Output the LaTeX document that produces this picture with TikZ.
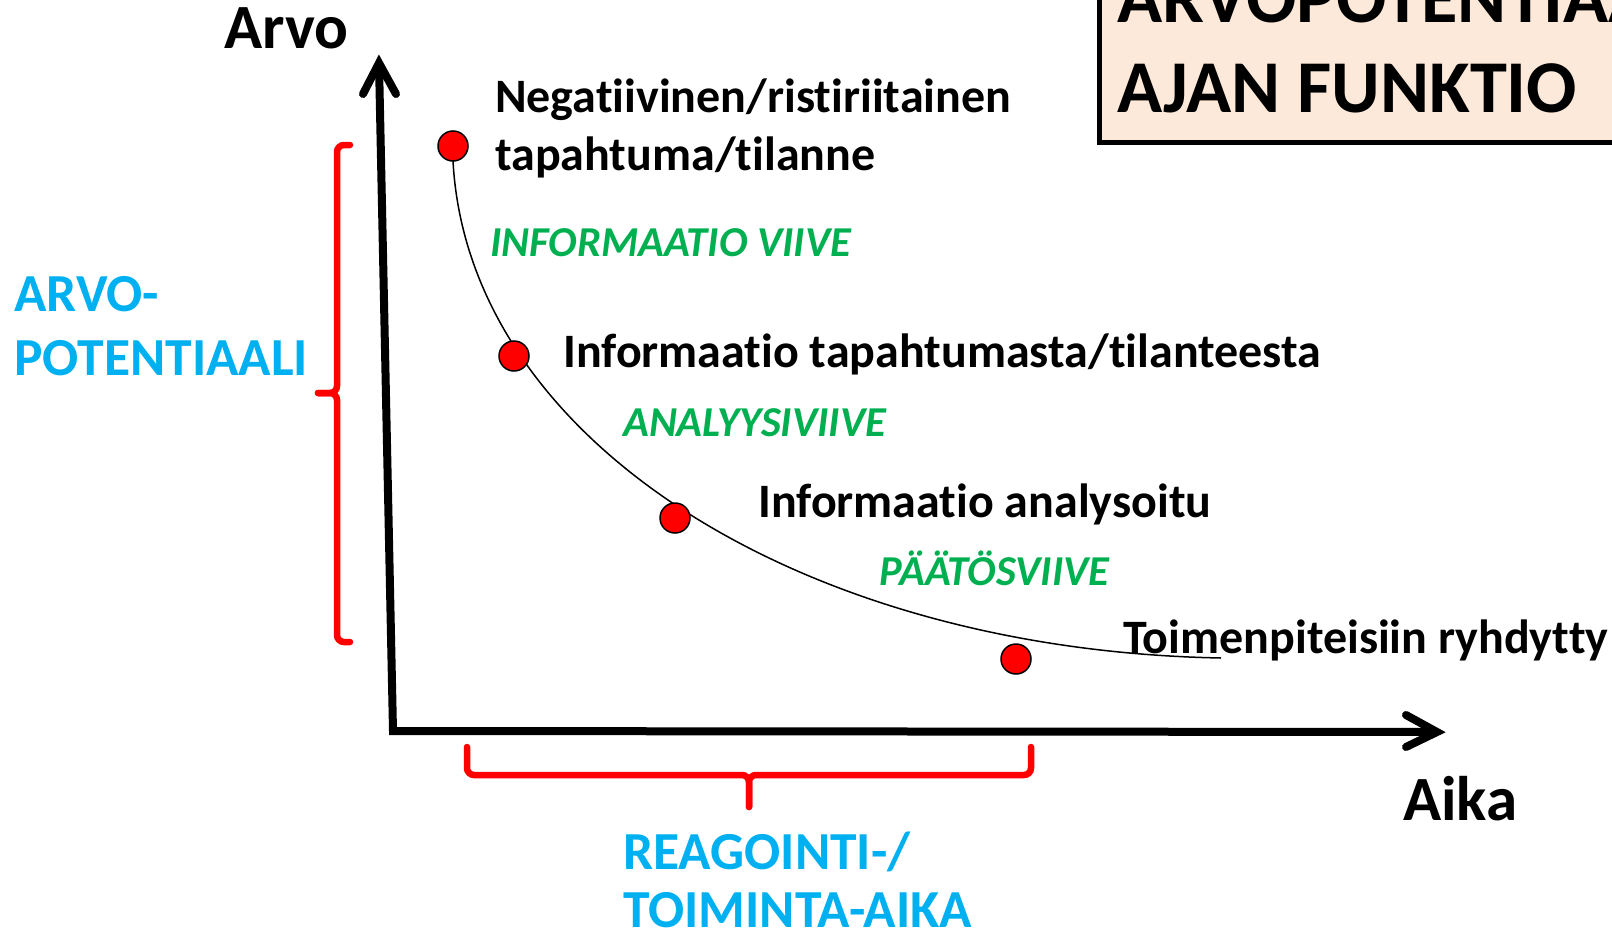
\documentclass[tikz,border=0pt]{standalone}
\usepackage{fontspec}
\setmainfont{Carlito}[Ligatures={NoCommon}]
\usetikzlibrary{calc}
\definecolor{dotred}{HTML}{FF0000}
\definecolor{lagreen}{HTML}{00B050}
\definecolor{lablue}{HTML}{00B0F0}
\definecolor{peach}{HTML}{FDE9D9}
\begin{document}
\begin{tikzpicture}[x=1pt,y=-1pt,
  lbl/.style={anchor=base west, inner sep=0, font=\fontsize{48pt}{57pt}\selectfont\bfseries},
  glbl/.style={anchor=base west, inner sep=0, text=lagreen, font=\fontsize{42.6pt}{50pt}\selectfont\bfseries\itshape},
  blbl/.style={anchor=base west, inner sep=0, text=lablue, font=\fontsize{53.5pt}{64pt}\selectfont\bfseries},
  tlbl/.style={anchor=base west, inner sep=0, font=\fontsize{74.5pt}{89pt}\selectfont\bfseries},
  axlbl/.style={anchor=base west, inner sep=0, font=\fontsize{63pt}{70pt}\selectfont\bfseries},
  axis/.style={line width=8pt},
  tip/.style={line width=8pt, line cap=round, line join=miter},
  brace/.style={draw=dotred, line width=6.5pt, line cap=round, rounded corners=7pt},
  dot/.style={circle, fill=dotred, draw=black, line width=1.5pt, minimum size=30pt, inner sep=0},
  curve/.style={line width=1.5pt}]
\useasboundingbox (0,0) rectangle (1612,934);
\clip (0,0) rectangle (1612,934);
% title box
\node[draw=black, line width=5pt, fill=peach, minimum width=560pt, minimum height=170pt, anchor=south west, inner sep=0] (box) at (1097,145) {};
\node[tlbl] (t1) at (1117,23) {ARVOPOTENTIAALI};
\node[tlbl] (t2) at (1117,112) {AJAN FUNKTIO};
% axes
\coordinate (O) at (393,731);
\coordinate (Ytip) at (379,63);
\coordinate (Xtip) at (1437,732);
\draw[axis] (Ytip) -- (O) -- (Xtip);
\draw[tip] ($(Ytip)+(-16,31)$) -- (Ytip) -- ($(Ytip)+(17,31)$);
\draw[tip] ($(Xtip)+(-31,-17)$) -- (Xtip) -- ($(Xtip)+(-31,15)$);
\node[axlbl] (arvo) at (224,49) {Arvo};
\node[axlbl] (aika) at (1403,820) {Aika};
% braces
\draw[brace] (350,145) -- (337,145) -- (337,393) -- (318,393);
\draw[brace] (318,393) -- (337,393) -- (337,642) -- (350,642);
\draw[brace] (467,747) -- (467,775) -- (749,775) -- (749,807);
\draw[brace] (749,807) -- (749,775) -- (1031,775) -- (1031,747);
% curve
\coordinate (cstart) at (453,161);
\coordinate (cend) at (1221,658);
\draw[curve] (cstart) .. controls (468,440) and (800,650) .. (cend);
% dots
\node[dot] (d1) at (453,146) {};
\node[dot] (d2) at (514,356) {};
\node[dot] (d3) at (675,518) {};
\node[dot] (d4) at (1016,659) {};
% labels
\node[lbl] (neg1) at (495,112) {Negatiivinen/ristiriitainen};
\node[lbl] (neg2) at (495,170) {tapahtuma/tilanne};
\node[lbl] (info1) at (563,367) {Informaatio tapahtumasta/tilanteesta};
\node[lbl] (info2) at (758,517) {Informaatio analysoitu};
\node[lbl] (toim) at (1123,653) {Toimenpiteisiin ryhdytty};
\node[glbl] (iv) at (490,256) {INFORMAATIO VIIVE};
\node[glbl] (av) at (623,436) {ANALYYSIVIIVE};
\node[glbl] (pv) at (879,585) {PÄÄTÖSVIIVE};
\node[blbl] (ap1) at (14,311) {ARVO-};
\node[blbl] (ap2) at (14,375) {POTENTIAALI};
\node[blbl] (re1) at (623,869) {REAGOINTI-/};
\node[blbl] (re2) at (623,927) {TOIMINTA-AIKA};
\end{tikzpicture}
\end{document}
